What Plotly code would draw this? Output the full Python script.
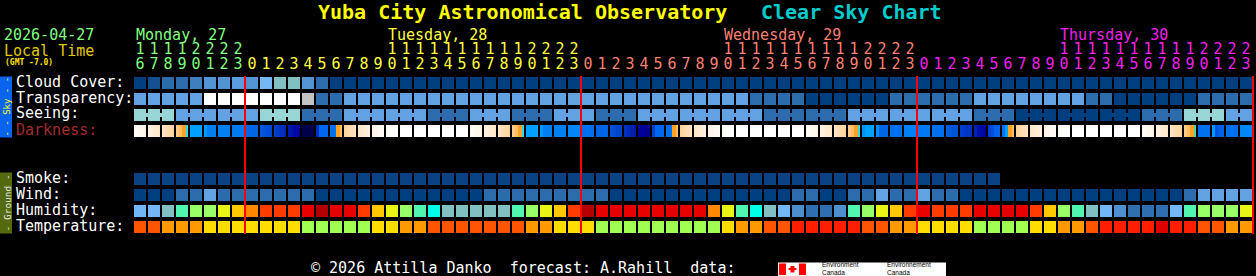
import plotly.graph_objects as go

W, H = 1256, 276
X0, PITCH = 140, 14      # px centre of hour column 0, px per hour
Y0, ROWP = 83, 16        # px centre of row slot 0, px per row slot
MONO = "DejaVu Sans Mono"

def dx(px): return (px - X0) / PITCH
def dy(py): return (py - Y0) / ROWP
def fx(px): return px / W
def fy(py): return 1 - py / H

# ---------------- data ----------------
start_hour = 16
day_names = ["Monday, 27", "Tuesday, 28", "Wednesday, 29", "Thursday, 30"]
day_colors = ["#80FF80", "#FFFF40", "#FA8072", "#F020F0"]
day_lengths = [8, 24, 24, 24]

row_labels = ["Cloud Cover:", "Transparency:", "Seeing:", "Darkness:",
              "Smoke:", "Wind:", "Humidity:", "Temperature:"]
row_label_colors = ["#FFFFFF", "#FFFFFF", "#FFFFFF", "#A52A2A",
                    "#FFFFFF", "#FFFFFF", "#FFFFFF", "#FFFFFF"]

cloud_cover = list("01223445" "46774200" "00000000" "00000000" "00000000"
                   "00000000" "00000000" "00000000" "00000000" "00000000")
transparency = list("LLLLLWWW" "WWWWGMML" "LLLLLLLL" "LLLLLLLL" "LLLLLLLL"
                    "LLLLMMMM" "DDDDDDMM" "MMMMLLLL" "LLLLMMDD" "DDDDMMMM")
seeing_3h = ["T", "B", "B", "T", "M", "B", "B", "M", "B", "M", "B", "M", "B", "B",
             "B", "M", "M", "B", "B", "B", "M", "D", "D", "D", "M", "T", "B"]
smoke = list("SSSSSSSS" "SSSSSSSS" "SSSSSSSS" "SSSSSSSS" "SSSSSSSS"
             "SSSSSSSS" "SSSSSSSS" "SSSSSS--" "--------" "--------")
wind = list("DDDMMLMM" "MMMMMDDD" "DDDDDDDD" "DMMMMMMM" "MMDDDDDD"
            "DDDDDDDM" "MDDMMLMM" "LMMDDDDD" "DDDDDDDD" "DDDMLLLL")
humidity = list("lltiggyo" "nrrrRKRR" "roygictt" "tttigyor" "KRRRRRRR"
                "Rnyictlm" "ddmigyor" "RrrrRRRR" "rogitlmd" "ddligggy")
temperature = list("AAOOOYYY" "YYYYGGGG" "GYYOOAAA" "AAAAOOYY" "YGGGGGGG"
                   "GGYOOAAR" "RRRRAAOO" "YYYYGGGG" "YYOOARRR" "RKRRAAOO")

cloud_pal = {"0": "#003F7F", "1": "#13508F", "2": "#2C6CAC", "3": "#3F7FBF",
             "4": "#5294D4", "5": "#5A9EE0", "6": "#76B8F6", "7": "#80C0C0"}
transp_pal = {"L": "#62A2E2", "W": "#FFFFFF", "G": "#C3C3C3", "M": "#2C6CAC", "D": "#003F7F"}
seeing_pal = {"T": "#98D5D5", "B": "#62A2E2", "M": "#2C6CAC", "D": "#003F7F"}
smoke_pal = {"S": "#0A4283"}
wind_pal = {"D": "#003F7F", "M": "#2C6CAC", "L": "#62A2E2"}
humid_pal = {"l": "#72B6F6", "m": "#4E8ECE", "d": "#2F6FAF", "t": "#80C0C0",
             "i": "#50F5B0", "c": "#00FFE6", "g": "#98FF66", "y": "#E8F514",
             "o": "#FFC800", "n": "#FF8800", "r": "#FF3C00", "R": "#E60000", "K": "#B40000"}
temp_pal = {"A": "#FF5500", "O": "#FF9900", "Y": "#FFDD00", "G": "#A0FF50",
            "R": "#FF1E00", "K": "#E00000"}

# darkness: one colour per hour, or four sub-colours for twilight hours
E1 = ["#FFFCF8", "#FFF9F2", "#FFF6EC", "#FFF3E6"]
E2 = ["#FFF0E0", "#FFEDD8", "#FFEAD0", "#FFE7CA"]
E3 = ["#FFE3C2", "#FFDEB6", "#FFD9AA", "#FFD39E"]
M1 = ["#FFD39E", "#FFD9AA", "#FFDEB6", "#FFE3C2"]
M2 = ["#FFE7CA", "#FFEAD0", "#FFEDD8", "#FFF0E0"]
M3 = ["#FFF3E6", "#FFF6EC", "#FFF9F2", "#FFFCF8"]
M4 = ["#FFFCF8", "#FFFDFA", "#FFFEFC", "#FFFFFF"]
WH = "#FFFFFF"
darkness = [
    E1, E2, E3, ["#FFCC88", "#FFBE60", "#FFA028", "#20E0F0"],
    "#00A0FF", ["#0098FF", "#0080F0", "#0080F0", "#0080F0"], "#0080F0", "#007CF0",
    "#0066E6", ["#0058DC", "#0052D8", "#004CD4", "#0048D0"],
    ["#0040C8", "#0038C4", "#0030BC", "#0028B8"], ["#0018B0", "#0010A8", "#0008A4", "#0000A0"],
    "#00004A", ["#0030C0", "#0066F0", "#0066F0", "#0066F0"],
    ["#0070F0", "#0070F0", "#FFA020", "#FFC060"], M1, M2, M3, M4, WH, WH, WH, WH, WH,
    E1, E2, E3, ["#FFCC88", "#FFBE60", "#FFA028", "#20E0F0"],
    "#00A0FF", ["#0098FF", "#0080F0", "#0080F0", "#0080F0"], "#0080F0", "#0088F8",
    "#0070F0", "#0064E8", ["#0052D8", "#004CD0", "#0044CC", "#0040C8"],
    ["#0030C0", "#0028B8", "#0020B0", "#0018A8"], ["#0000A0", "#000098", "#000090", "#000090"],
    ["#0040CC", "#0066F0", "#0066F0", "#0066F0"], ["#0070F0", "#0070F0", "#FFA020", "#FFC060"],
    M1, M2, M3, M4, WH, WH, WH, WH, WH,
    E1, E2, E3, ["#FFCC88", "#FFBE60", "#FFA028", "#30E0E0"],
    ["#0090F8", "#00A0FF", "#00A0FF", "#00A0FF"], ["#0090F8", "#0066E8", "#0066E8", "#0066E8"],
    "#0070F0", "#0080F8", "#0078F4", "#0070F0",
    ["#0060E0", "#0058DC", "#0054D8", "#0050D8"], ["#0040D0", "#0038C8", "#0034C4", "#0030C0"],
    ["#0020B0", "#0010A8", "#0008A4", "#0000A0"], ["#0040D8", "#0050E0", "#0060EC", "#0066F0"],
    ["#0070F0", "#00A0FF", "#FFA020", "#FFC060"], M1, M2, M3, M4, WH, WH, WH, WH, WH,
    E1, E2, E3, ["#FFCC88", "#FFBE60", "#FFA028", "#40E0A0"],
    "#0070F0", ["#0099FF", "#0050E0", "#0060E8", "#0066E8"], "#0070F0", "#0088F8",
]

# ---------------- build ----------------
NCOL = sum(day_lengths)
for r in (cloud_cover, transparency, smoke, wind, humidity, temperature, darkness):
    assert len(r) == NCOL, len(r)

hours = [(start_hour + i) % 24 for i in range(NCOL)]
col_day = []
for d, n in enumerate(day_lengths):
    col_day += [d] * n

seeing = []
for g in seeing_3h:
    seeing += [g] * 3
seeing = seeing[:NCOL]

rows = {0: (cloud_cover, cloud_pal), 1: (transparency, transp_pal), 2: (seeing, seeing_pal),
        6: (smoke, smoke_pal), 7: (wind, wind_pal), 8: (humidity, humid_pal), 9: (temperature, temp_pal)}

palette = []
def cidx(c):
    if c not in palette:
        palette.append(c)
    return palette.index(c)

z = [[None] * NCOL for _ in range(10)]
for slot, (vals, pal) in rows.items():
    for i, v in enumerate(vals):
        if v in pal:
            z[slot][i] = cidx(pal[v]) + 0.5

dark_x, dark_z = [], []
for i, v in enumerate(darkness):
    subs = v if isinstance(v, list) else [v] * 4
    for k, c in enumerate(subs):
        dark_x.append(i - 0.375 + 0.25 * k)
        dark_z.append(cidx(c) + 0.5)

n = len(palette)
cscale = []
for k, c in enumerate(palette):
    cscale.append([k / n, c])
    cscale.append([(k + 1) / n, c])

fig = go.Figure()
fig.add_trace(go.Heatmap(z=z, x=list(range(NCOL)), y=list(range(10)), zmin=0, zmax=n,
                         colorscale=cscale, showscale=False, xgap=2, ygap=4, hoverinfo="skip"))
fig.add_trace(go.Heatmap(z=[[None] * len(dark_x), dark_z, [None] * len(dark_x)], x=dark_x, y=[2, 3, 4],
                         zmin=0, zmax=n, colorscale=cscale, showscale=False, xgap=0, ygap=4,
                         hoverinfo="skip"))
# black gaps between darkness hours
sx, sy = [], []
for i in range(NCOL + 1):
    sx += [i - 0.5, i - 0.5, None]
    sy += [2.5, 3.5, None]
fig.add_trace(go.Scatter(x=sx, y=sy, mode="lines", line=dict(color="#000000", width=2),
                         hoverinfo="skip"))

# seeing connectors within each 3-hour forecast block
for code, col in seeing_pal.items():
    cx, cy = [], []
    for g, v in enumerate(seeing_3h):
        a, b = 3 * g, min(3 * g + 2, NCOL - 1)
        if v == code and b > a:
            cx += [a, b, None]
            cy += [2, 2, None]
    if cx:
        fig.add_trace(go.Scatter(x=cx, y=cy, mode="lines", line=dict(color=col, width=4),
                                 hoverinfo="skip"))

# midnight lines
mx, my = [], []
for i in range(NCOL):
    if hours[i] == 0:
        mx += [i - 0.5, i - 0.5, None]
        my += [dy(76), dy(234), None]
mx += [NCOL - 0.5, NCOL - 0.5, None]
my += [dy(76), dy(234), None]
fig.add_trace(go.Scatter(x=mx, y=my, mode="lines", line=dict(color="#FF0000", width=2),
                         hoverinfo="skip"))

# hour digits
fig.add_trace(go.Scatter(
    x=list(range(NCOL)), y=[dy(50.5)] * NCOL, mode="text",
    text=[str(h // 10) if h >= 10 else "" for h in hours],
    textfont=dict(family=MONO, size=15, color=[day_colors[d] for d in col_day]),
    hoverinfo="skip"))
fig.add_trace(go.Scatter(
    x=list(range(NCOL)), y=[dy(65.5)] * NCOL, mode="text",
    text=[str(h % 10) for h in hours],
    textfont=dict(family=MONO, size=15, color=[day_colors[d] for d in col_day]),
    hoverinfo="skip"))

ann = []
def text(px, py, s, color, size=15, family=MONO, xanchor="left", angle=0):
    ann.append(dict(x=fx(px), y=fy(py), xref="paper", yref="paper", text=s, showarrow=False,
                    xanchor=xanchor, yanchor="middle", textangle=angle, align="left",
                    font=dict(family=family, size=size, color=color)))

text(316, 12, "<b>Yuba City Astronomical Observatory</b>", "#FFFF00", 20)
text(759, 12, "<b>Clear Sky Chart</b>", "#00CCCC", 20)
text(2, 35, "2026-04-27", "#80FF80")
text(2, 50.5, "Local Time", "#E0C800")
text(3, 62, "<b>(GMT -7.0)</b>", "#FFE000", 8)

# day names at 10:00 (or first column)
for d in range(len(day_names)):
    cols = [i for i in range(NCOL) if col_day[i] == d]
    c0 = cols[0] if d == 0 else [i for i in cols if hours[i] == 10][0]
    text(X0 + PITCH * c0 - 6, 35, day_names[d], day_colors[d])

row_slots = [0, 1, 2, 3, 6, 7, 8, 9]
for lab, colr, slot in zip(row_labels, row_label_colors, row_slots):
    text(14, Y0 + ROWP * slot - 1.5, lab, colr)

text(6.5, 107, "- - Sky - -", "#FFFF00", 9, angle=-90, xanchor="center")
text(6.5, 203, "- Ground -", "#E8E8E8", 9.5, angle=-90, xanchor="center")

text(309, 268, "© 2026 Attilla Danko  forecast: A.Rahill  data:", "#FFFFFF")
text(820, 268.5, "Environment<br>Canada", "#000000", 6.5, family="Liberation Sans")
text(885, 268.5, "Environnement<br>Canada", "#000000", 6.5, family="Liberation Sans")

shapes = []
def rect(x0, y0, x1, y1, color):
    shapes.append(dict(type="rect", xref="paper", yref="paper", x0=fx(x0), x1=fx(x1),
                       y0=fy(y1), y1=fy(y0), fillcolor=color, line=dict(width=0), layer="below"))

rect(0, 76.5, 12, 137.5, "#0A64F0")
rect(0, 172.5, 12, 233.5, "#55690F")
rect(778, 262.5, 946, 276, "#FFFFFF")
rect(779, 263.5, 786, 275, "#FF0000")
rect(799, 263.5, 806, 275, "#FF0000")
rect(790.5, 266, 794.5, 272.5, "#FF0000")
rect(788.5, 268, 796.5, 270, "#FF0000")

fig.update_layout(
    width=W, height=H, margin=dict(l=0, r=0, t=0, b=0, pad=0),
    paper_bgcolor="#000000", plot_bgcolor="#000000", showlegend=False,
    xaxis=dict(range=[dx(0), dx(W)], visible=False, fixedrange=True),
    yaxis=dict(range=[dy(H), dy(0)], visible=False, fixedrange=True),
    annotations=ann, shapes=shapes,
)
fig.write_html("out.html", include_plotlyjs=True, config={"displayModeBar": False})
